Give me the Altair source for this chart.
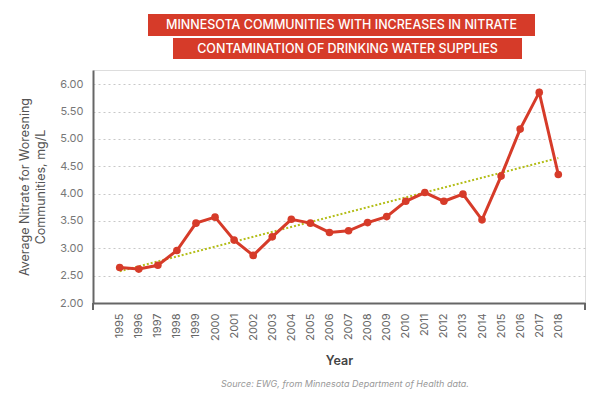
import altair as alt
import pandas as pd

years = list(range(1995, 2019))
values = [2.65, 2.62, 2.69, 2.96, 3.46, 3.57, 3.15, 2.87, 3.21, 3.53, 3.46, 3.29,
          3.32, 3.47, 3.58, 3.86, 4.02, 3.86, 3.99, 3.52, 4.32, 5.18, 5.85, 4.35]
title_lines = ["MINNESOTA COMMUNITIES WITH INCREASES IN NITRATE",
               "CONTAMINATION OF DRINKING WATER SUPPLIES"]
y_title = ["Average Nitrate for Woresning", "Communities, mg/L"]
x_title = "Year"
source = "Source: EWG, from Minnesota Department of Health data."
y_ticks = [2.0, 2.5, 3.0, 3.5, 4.0, 4.5, 5.0, 5.5, 6.0]

df = pd.DataFrame({"year": years, "value": values})

W, H = 492, 233
FONT = "Inter"
RED = "#d63b29"

x = alt.X("year:Q", scale=alt.Scale(domain=[1993.6, 2019.4], nice=False, zero=False),
          axis=alt.Axis(values=years, format="d", labelAngle=-90, labelAlign="right",
                        labelBaseline="middle", labelPadding=10, ticks=False,
                        labelOverlap=False, labelFlush=False, labelBound=False,
                        grid=False, domainColor="#666", domainWidth=2,
                        labelColor="#666", labelFont=FONT, labelFontSize=11,
                        title=x_title, titleFont=FONT, titleFontSize=12.5,
                        titleColor="#444", titleFontWeight=600, titlePadding=14))
y = alt.Y("value:Q", scale=alt.Scale(domain=[2, 6.26], nice=False, zero=False),
          axis=alt.Axis(values=y_ticks, format=".2f", ticks=False, grid=True,
                        labelOverlap=False, labelFlush=False, labelBound=False,
                        gridColor="#c8c8c8", gridDash=[2, 3], gridWidth=1,
                        domainColor="#666", domainWidth=2, labelColor="#777",
                        labelFont=FONT, labelFontSize=11, labelPadding=10,
                        title=y_title, titleFont=FONT, titleFontSize=12.5,
                        titleLineHeight=16,
                        titleColor="#555", titleFontWeight="normal", titlePadding=12))

base = alt.Chart(df)
trend = base.transform_regression("year", "value").mark_line(
    color="#b5bf1e", strokeWidth=2, strokeDash=[2, 2]).encode(x=x, y=y)
line = base.mark_line(color=RED, strokeWidth=3).encode(x=x, y=y)
pts = base.mark_circle(color=RED, size=58, opacity=1).encode(x=x, y=y)

boxes = pd.DataFrame({"t": title_lines})
box1 = alt.Chart(boxes.iloc[[0]]).mark_rect(color=RED).encode(
    x=alt.value(55), x2=alt.value(442), y=alt.value(-56), y2=alt.value(-34))
box2 = alt.Chart(boxes.iloc[[1]]).mark_rect(color=RED).encode(
    x=alt.value(80), x2=alt.value(429), y=alt.value(-32), y2=alt.value(-11))
txt1 = alt.Chart(boxes.iloc[[0]]).mark_text(color="white", font=FONT, fontSize=12.5,
                                            fontWeight=500).encode(
    text="t:N", x=alt.value(248.5), y=alt.value(-45))
txt2 = alt.Chart(boxes.iloc[[1]]).mark_text(color="white", font=FONT, fontSize=12.5,
                                            fontWeight=500).encode(
    text="t:N", x=alt.value(254.5), y=alt.value(-21.5))
src = alt.Chart(pd.DataFrame({"t": [source]})).mark_text(
    color="#999", font=FONT, fontSize=9, fontStyle="italic").encode(
    text="t:N", x=alt.value(252), y=alt.value(H + 81))
ends = alt.Chart(pd.DataFrame({"t": [0, 1]})).mark_rule(color="#666", strokeWidth=2)
end_l = ends.transform_filter("datum.t == 0").encode(
    x=alt.value(0), y=alt.value(H), y2=alt.value(H + 7))
end_r = ends.transform_filter("datum.t == 1").encode(
    x=alt.value(W), y=alt.value(H), y2=alt.value(H + 7))

chart = alt.layer(trend, line, pts, box1, box2, txt1, txt2, src, end_l, end_r).properties(
    width=W, height=H,
    autosize=alt.AutoSizeParams(type="none"),
    padding={"left": 85, "top": 62, "right": 19, "bottom": 88},
).configure_view(stroke=None).configure(background="white")

chart.save("out.html", embed_options={"renderer": "svg", "actions": False})
